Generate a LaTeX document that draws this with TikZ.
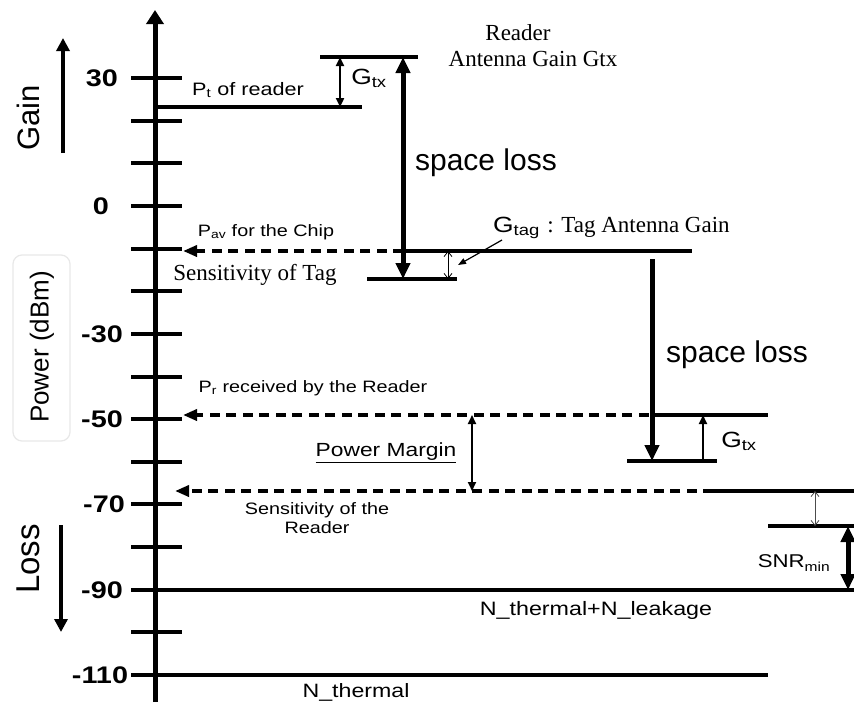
\documentclass[tikz,border=0pt]{standalone}
\usepackage{fontspec}
\setmainfont{Liberation Sans}
\newfontfamily\sfw{Liberation Sans}[FakeStretch=1.2]
\newfontfamily\rmn{Liberation Serif}
\usetikzlibrary{arrows.meta}
\newcommand\fsz[1]{\fontsize{#1}{#1}\selectfont}
\tikzset{
  bigtip/.tip={Triangle[length=16pt,width=14pt]},
  midtip/.tip={Triangle[length=9pt,width=8pt]},
  dashtip/.tip={Triangle[length=14pt,width=11pt]},
  opentip/.tip={Straight Barb[length=5pt,width=8pt,line width=0.8pt]}
}
\begin{document}
\begin{tikzpicture}[x=1pt,y=-1pt,
  lvl/.style={line width=4.5pt},
  dsh/.style={line width=4.5pt, dash pattern=on 10pt off 6.5pt},
  tck/.style={line width=4pt},
  num/.style={font=\sfw\bfseries\fsz{24}, inner sep=0pt},
  lab/.style={font=\sfw\fsz{16.5}, inner sep=0pt},
  ser/.style={font=\rmn\fsz{23}, inner sep=0pt},
  big/.style={font=\fsz{30}, inner sep=0pt},
  side/.style={font=\fsz{31}, inner sep=0pt, rotate=90},
  thickarr/.style={line width=5pt}
]
\useasboundingbox (0,0) rectangle (854,702);
\fill[white] (0,0) rectangle (854,702);

% ---- axis ----
\coordinate (axb) at (155,702);
\coordinate (axt) at (155,10);
\draw[line width=5pt,-{Triangle[length=14pt,width=17pt]}] (axb) -- (axt);
\foreach \i in {0,...,14}{
  \pgfmathsetmacro\yy{78+42.643*\i}
  \coordinate (tl\i) at (131,\yy);
  \coordinate (tr\i) at (182,\yy);
  \draw[tck] (tl\i) -- (tr\i);
}
\node[num] (n30)  at (102,78)  {30};
\node[num] (n0)   at (101,206) {0};
\node[num] (n-30) at (102,334) {-30};
\node[num] (n-50) at (102,419) {-50};
\node[num] (n-70) at (104,504) {-70};
\node[num] (n-90) at (102,590) {-90};
\node[num] (n-110) at (100,675) {-110};

% ---- side labels ----
\node[side] (gain) at (28,118) {Gain};
\coordinate (ga1) at (63,153);
\coordinate (ga2) at (63,38);
\draw[line width=3.5pt,-{Triangle[length=13pt,width=13pt]}] (ga1) -- (ga2);
\draw[black!9, line width=1.2pt, rounded corners=9pt] (13,255) rectangle (70,441);
\node[side, font=\fsz{26}] (power) at (42,347) {Power (dBm)};
\node[side, font=\fsz{33}] (loss) at (28,559) {Loss};
\coordinate (la1) at (61,525);
\coordinate (la2) at (61,632);
\draw[line width=3.5pt,-{Triangle[length=13pt,width=13pt]}] (la1) -- (la2);

% ---- reader transmit ----
\coordinate (pt-l) at (155,107);
\coordinate (pt-r) at (362,107);
\draw[lvl] (pt-l) -- (pt-r);
\node[lab, font=\sfw\fsz{18}] (ptlab) at (248,90) {P\textsubscript{t} of reader};
\coordinate (rg-l) at (320,57);
\coordinate (rg-r) at (418,57);
\draw[lvl] (rg-l) -- (rg-r);
\coordinate (gtx1-t) at (340,57);
\coordinate (gtx1-b) at (340,107);
\draw[line width=2.5pt,midtip-midtip] (gtx1-t) -- (gtx1-b);
\node[lab, font=\sfw\fsz{22}] (gtx1) at (369,78) {G\textsubscript{tx}};
\node[ser] (reader) at (518,33) {Reader};
\node[ser] (antgain) at (533,59) {Antenna Gain Gtx};

% ---- space loss 1 ----
\coordinate (sl1-t) at (403,57);
\coordinate (sl1-b) at (403,279);
\draw[thickarr,bigtip-bigtip] (sl1-t) -- (sl1-b);
\node[big] (sl1) at (486,163) {space loss};

% ---- tag level ----
\coordinate (av-l) at (183,251);
\coordinate (av-m) at (403,251);
\coordinate (av-r) at (692,251);
\draw[dsh,-dashtip] (av-m) -- (av-l);
\draw[lvl] (av-m) -- (av-r);
\node[lab] (avlab) at (266,232) {P\textsubscript{av} for the Chip};
\coordinate (st-l) at (367,279);
\coordinate (st-r) at (457,279);
\draw[lvl] (st-l) -- (st-r);
\node[ser] (stlab) at (255,275) {Sensitivity of Tag};
\coordinate (gt-t) at (448,251);
\coordinate (gt-b) at (448,279);
\draw[line width=1pt,opentip-opentip] (gt-t) -- (gt-b);
\node[anchor=base west, inner sep=0pt] (gtag) at (493,232)
  {{\sfw\fsz{22}G\textsubscript{tag}}\,{\rmn\fsz{23} : Tag Antenna Gain}};
\coordinate (gp-s) at (502,240);
\coordinate (gp-e) at (458,265);
\draw[line width=1.2pt,-{Triangle[length=8pt,width=6pt]}] (gp-s) -- (gp-e);

% ---- space loss 2 ----
\coordinate (sl2-t) at (652,259);
\coordinate (sl2-b) at (652,461);
\draw[thickarr,-bigtip] (sl2-t) -- (sl2-b);
\node[big] (sl2) at (737,355) {space loss};

% ---- received level ----
\coordinate (pr-l) at (183,415);
\coordinate (pr-m) at (665,415);
\coordinate (pr-r) at (768,415);
\draw[dsh,-dashtip] (pr-m) -- (pr-l);
\draw[lvl] (pr-m) -- (pr-r);
\node[lab] (prlab) at (313,388) {P\textsubscript{r} received by the Reader};
\coordinate (g2-l) at (627,461);
\coordinate (g2-r) at (717,461);
\draw[lvl] (g2-l) -- (g2-r);
\coordinate (gtx2-b) at (703,461);
\coordinate (gtx2-t) at (703,415);
\draw[line width=1.8pt,-midtip] (gtx2-b) -- (gtx2-t);
\node[lab, font=\sfw\fsz{22}] (gtx2) at (739,441) {G\textsubscript{tx}};

% ---- power margin ----
\coordinate (pm-t) at (472,415);
\coordinate (pm-b) at (472,491);
\draw[line width=1.8pt,midtip-midtip] (pm-t) -- (pm-b);
\node[lab, font=\sfw\fsz{19}] (pmlab) at (386,453) {\underline{Power Margin}};

% ---- reader sensitivity ----
\coordinate (sr-l) at (175,491);
\coordinate (sr-m) at (713,491);
\coordinate (sr-r) at (854,491);
\draw[dsh,-dashtip] (sr-m) -- (sr-l);
\draw[lvl] (sr-m) -- (sr-r);
\node[lab, align=center, font=\sfw\fontsize{16.5}{19}\selectfont] (srlab) at (317,518) {Sensitivity of the\\Reader};
\coordinate (snr-l) at (768,526);
\coordinate (snr-r) at (854,526);
\draw[lvl] (snr-l) -- (snr-r);
\coordinate (sm-t) at (815,491);
\coordinate (sm-b) at (815,526);
\draw[black!70, line width=1pt,opentip-opentip] (sm-t) -- (sm-b);
\coordinate (snr-t) at (848,526);
\coordinate (snr-b) at (848,590);
\draw[thickarr,bigtip-bigtip] (snr-t) -- (snr-b);
\node[lab, font=\sfw\fsz{18.5}] (snrlab) at (794,563) {SNR\textsubscript{min}};

% ---- noise levels ----
\coordinate (nl-l) at (155,590);
\coordinate (nl-r) at (854,590);
\draw[line width=3.5pt] (nl-l) -- (nl-r);
\node[lab, font=\sfw\fsz{19.4}] (nllab) at (596,610) {N\_thermal+N\_leakage};
\coordinate (nt-l) at (155,675);
\coordinate (nt-r) at (768,675);
\draw[line width=3.5pt] (nt-l) -- (nt-r);
\node[lab, font=\sfw\fsz{19.3}] (ntlab) at (356,692) {N\_thermal};
\end{tikzpicture}
\end{document}
